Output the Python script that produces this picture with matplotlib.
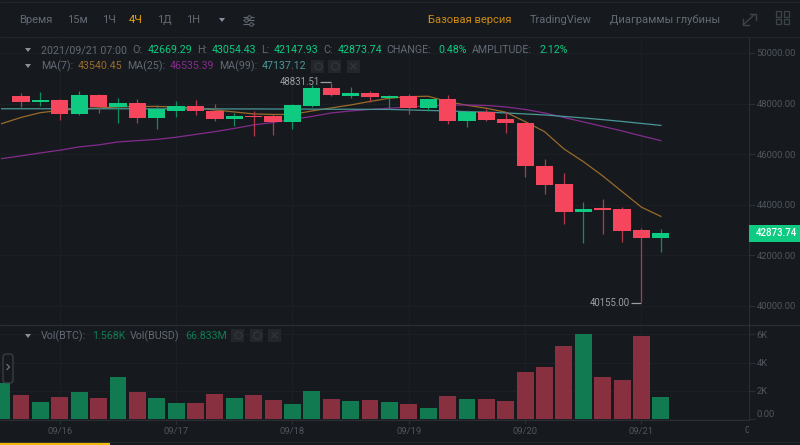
import matplotlib
matplotlib.use('Agg')
import matplotlib.pyplot as plt
from matplotlib.patches import Rectangle, Polygon, FancyBboxPatch
from matplotlib.transforms import Bbox
import numpy as np

plt.rcParams['font.family'] = ['Roboto', 'DejaVu Sans']

# Candles, 4h, index 0 = first complete candle on screen
opens = [48300, 48065, 48143, 47590, 48353, 47880, 48037, 47432, 47721, 47907, 47721, 47381, 47523, 47500, 47275,
         47895, 48618, 48313, 48420, 48234, 48302, 47828, 48171, 47314, 47658, 47373, 47247, 45525, 44826, 43708,
         43866, 43838, 43009, 42669.29]
highs = [48430, 48460, 48195, 48510, 48370, 48222, 48171, 47934, 48092, 48143, 47985, 47642, 47721, 47591, 47985,
         48748, 48831.51, 48669, 48510, 48330, 48380, 48190, 48329, 47749, 47776, 47681, 47260, 45825, 45272, 44114,
         44245, 43929, 43087, 43054.43]
lows = [47855, 47905, 47355, 47563, 47640, 47223, 47247, 47010, 47460, 47551, 47302, 47116, 46722, 46761, 46986,
        47880, 48300, 48234, 48065, 47776, 47590, 47721, 47184, 47065, 47302, 46840, 45114, 44419, 43234, 42483,
        42850, 42523, 40155.00, 42147.93]
closes = [48065, 48143, 47590, 48353, 47880, 48037, 47432, 47776, 47907, 47709, 47381, 47523, 47472, 47275, 47934,
          48618, 48341, 48432, 48250, 48313, 47828, 48171, 47314, 47670, 47354, 47223, 45525, 44786, 43708, 43838,
          43787, 42981, 42669.29, 42873.74]

# Moving averages start one candle before index 0
ma7 = [47207, 47452, 47642, 47729, 47788, 47828, 47867, 47887, 47887, 47867, 47828, 47749, 47670, 47591, 47571,
       47571, 47709, 47828, 47946, 48084, 48211, 48274, 48290, 48076, 47934, 47816, 47658, 47287, 46891, 46208,
       45706, 45141, 44521, 43905, 43540.45]
ma25 = [45825, 45932, 46050, 46157, 46287, 46366, 46484, 46536, 46583, 46670, 46781, 46891, 47018, 47156, 47255,
        47373, 47492, 47630, 47709, 47768, 47816, 47867, 47907, 47934, 47946, 47926, 47867, 47768, 47630, 47452,
        47275, 47097, 46919, 46722, 46535.39]
ma99 = [47795, 47795, 47795, 47795, 47795, 47795, 47795, 47795, 47790, 47790, 47790, 47790, 47788, 47788, 47785,
        47785, 47780, 47776, 47776, 47772, 47768, 47749, 47729, 47709, 47681, 47662, 47630, 47591, 47551, 47492,
        47432, 47365, 47294, 47215, 47137.12]

# Volume in thousands, same start as the averages
volumes = [2.59, 1.74, 1.22, 1.58, 1.91, 1.51, 2.96, 1.93, 1.48, 1.13, 1.18, 1.79, 1.51, 1.69, 1.39, 1.11, 1.98,
           1.44, 1.27, 1.34, 1.22, 1.11, 0.82, 1.65, 1.41, 1.46, 1.29, 3.36, 3.67, 5.20, 6.05, 2.96, 2.78, 5.91, 1.568]
vol_up = [1, 0, 1, 0, 1, 0, 1, 0, 1, 1, 0, 0, 1, 0, 0, 1, 1, 0, 1, 0, 1, 0, 1, 0, 1, 0, 0, 0, 0, 0, 1, 0, 0, 0, 1]

price_ticks = [40000, 42000, 44000, 46000, 48000, 50000]
vol_ticks = [0, 2, 4, 6]
vol_tick_labels = ['0.00', '2K', '4K', '6K']
date_ticks = [2, 8, 14, 20, 26, 32]
date_labels = ['09/16', '09/17', '09/18', '09/19', '09/20', '09/21']

BG = '#161a1e'
GRID = '#1c2024'
LINE = '#2a2e33'
GREEN = '#0ecb81'
RED = '#f6465d'
VOL_GREEN = '#117a50'
VOL_RED = '#88303f'
GREY = '#636a75'
AXIS_TEXT = '#4f555d'
ORANGE = '#f0a30a'
MA7_COLOR = '#9a6a2a'
MA25_COLOR = '#842c8e'
MA99_COLOR = '#4a9698'
W, H = 800, 445


def px_axes(fig, left, top, right, bottom):
    return fig.add_axes([left / W, 1 - bottom / H, (right - left) / W, (bottom - top) / H])


fig = plt.figure(figsize=(8, 4.45), dpi=100, facecolor=BG)

# candle index <-> pixel: x = 21 + 19.39 * i
xlim = (-21 / 19.39, (749 - 21) / 19.39)

ax = px_axes(fig, 0, 37, 749, 324)
ax_vol = px_axes(fig, 0, 324, 749, 420)
for a in (ax, ax_vol):
    a.set_facecolor(BG)
    a.set_xlim(*xlim)
    a.yaxis.tick_right()
    for s in ('top', 'left', 'bottom'):
        a.spines[s].set_visible(False)
    a.spines['right'].set_color(LINE)
    a.grid(True, color=GRID, linewidth=0.8)
    a.set_axisbelow(True)
    a.set_xticks(date_ticks)
    a.tick_params(axis='y', colors=LINE, labelcolor=AXIS_TEXT, labelsize=6.8, length=4, width=0.8, pad=1.5)

idx = np.arange(len(opens))
ma_idx = np.arange(-1, len(opens))

ax.set_ylim(39287, 50632)
ax.set_yticks(price_ticks)
ax.set_yticklabels([f'{p:.2f}' for p in price_ticks])
ax.tick_params(axis='x', length=0, labelbottom=False)

ax.plot(ma_idx, ma7, color=MA7_COLOR, lw=0.9, zorder=2)
ax.plot(ma_idx, ma25, color=MA25_COLOR, lw=0.9, zorder=2)
ax.plot(ma_idx, ma99, color=MA99_COLOR, lw=0.9, zorder=2)

candle_colors = [GREEN if c >= o else RED for o, c in zip(opens, closes)]
wick_colors = ['#0f8f5e' if c >= o else '#b23a4c' for o, c in zip(opens, closes)]
ax.vlines(idx, lows, highs, colors=wick_colors, lw=0.9, zorder=3)
ax.bar(idx, np.abs(np.array(closes) - np.array(opens)), bottom=np.minimum(opens, closes), width=0.89,
       color=candle_colors, zorder=4)

ax_vol.set_ylim(-0.05, 6.725)
ax_vol.set_yticks(vol_ticks)
ax_vol.set_yticklabels(vol_tick_labels)
ax_vol.get_yticklabels()[0].set_verticalalignment('bottom')
ax_vol.bar(ma_idx, volumes, width=0.87, color=[VOL_GREEN if u else VOL_RED for u in vol_up], zorder=3)
ax_vol.set_xticklabels(date_labels)
ax_vol.tick_params(axis='x', colors=LINE, labelcolor=AXIS_TEXT, labelsize=6.8, length=3, width=0.8, pad=2)
ax_vol.spines['bottom'].set_visible(True)
ax_vol.spines['bottom'].set_color(LINE)

# overlay in pixel coordinates for the page chrome
ov = fig.add_axes([0, 0, 1, 1], zorder=10)
ov.set_xlim(0, W)
ov.set_ylim(H, 0)
ov.axis('off')
ov.patch.set_alpha(0)


def txt(x, y, s, color=GREY, size=7.7, **kw):
    return ov.text(x, y, s, color=color, fontsize=size, va='center', **kw)


def seg(x1, y1, x2, y2, color=LINE, lw=0.9):
    ov.plot([x1, x2], [y1, y2], color=color, lw=lw, solid_capstyle='butt')


def tri(x, y, color='#8a9098'):
    ov.add_patch(Polygon([(x - 3, y - 2), (x + 3, y - 2), (x, y + 2)], color=color, lw=0))


# frame lines
seg(0, 2, 800, 2, color='#22262b')
seg(0, 37, 800, 37, color='#22262b')
seg(0, 324.5, 800, 324.5)
seg(0, 442, 800, 442, color='#22262b')
seg(0, 443.5, 110, 443.5, color='#f0b90b', lw=1.6)

# toolbar
for x, s, c in [(19, 'Время', GREY), (67, '15м', GREY), (102, '1Ч', GREY), (129, '4Ч', ORANGE),
                (157, '1Д', GREY), (186, '1Н', GREY)]:
    txt(x, 20, s, color=c, size=8)
tri(222, 20, '#848e9c')
for yy, knob in [(16.5, 249), (20, 246), (23.5, 251)]:
    seg(243, yy, 254, yy, color=GREY, lw=0.8)
    ov.plot(knob, yy, 'o', ms=2.5, mfc=BG, mec=GREY, mew=0.7)
txt(428.5, 20, 'Базовая версия', color='#cf8a10', size=8)
txt(530, 20, 'TradingView', size=8)
txt(610, 20, 'Диаграммы глубины', size=8)

# expand and layout icons
seg(743, 25, 755, 14, color='#3d434b', lw=1)
for pts in [[(743, 19), (743, 25), (749, 25)], [(750, 14), (756, 14), (756, 20)]]:
    ov.plot(*zip(*pts), color='#3d434b', lw=1)
for gx in (776, 783.5):
    for gy in (11, 18.5):
        ov.add_patch(Rectangle((gx, gy), 5, 5.5, fill=False, ec='#3d434b', lw=0.9))

# legend rows
tri(28, 50)
txt(41, 50, '2021/09/21 07:00')
for x, s, c in [(132.5, 'O:', GREY), (148, '42669.29', GREEN), (197, 'H:', GREY), (212, '43054.43', GREEN),
                (261, 'L:', GREY), (274, '42147.93', GREEN), (323, 'C:', GREY), (338, '42873.74', GREEN),
                (386, 'CHANGE:', GREY), (438, '0.48%', GREEN), (472, 'AMPLITUDE:', GREY), (539, '2.12%', GREEN)]:
    txt(x, 50, s, color=c)

tri(28, 66)
for x, s, c in [(41, 'MA(7):', GREY), (78, '43540.45', MA7_COLOR), (127, 'MA(25):', GREY),
                (170, '46535.39', MA25_COLOR), (219, 'MA(99):', GREY), (262, '47137.12', MA99_COLOR)]:
    txt(x, 66, s, color=c)

tri(28, 336)
for x, s, c in [(41, 'Vol(BTC):', GREY), (92, '1.568K', VOL_GREEN), (130, 'Vol(BUSD)', GREY),
                (185.5, '66.833M', VOL_GREEN)]:
    txt(x, 336, s, color=c)

# eye / gear / close buttons
for y0, xs in [(60, (311, 328, 347)), (329, (231, 250, 268))]:
    for i, x0 in enumerate(xs):
        ov.add_patch(Rectangle((x0, y0), 13, 12.5, color='#23272c', lw=0))
        cx, cy = x0 + 6.5, y0 + 6.25
        if i == 0:
            ov.plot(cx, cy, 'o', ms=5, mfc='none', mec='#33383e', mew=0.8)
        elif i == 1:
            ov.plot(cx, cy, 'h', ms=6, mfc='none', mec='#33383e', mew=0.8)
        else:
            seg(cx - 3, cy - 3, cx + 3, cy + 3, color='#33383e')
            seg(cx - 3, cy + 3, cx + 3, cy - 3, color='#33383e')

# high and low labels
txt(280, 82, '48831.51', color='#9a9fa6', size=6.9)
seg(320, 82, 331, 82, color='#9a9fa6')
txt(590, 302.7, '40155.00', color='#9a9fa6', size=6.9)
seg(631, 302.7, 641, 302.7, color='#9a9fa6')

# last price tag
ov.add_patch(Rectangle((749, 225), 51, 17, color=GREEN, lw=0))
txt(776, 233.3, '42873.74', color='white', size=6.9, ha='center', fontweight='medium')

# collapse handle
ov.add_patch(FancyBboxPatch((4, 355), 8, 27, boxstyle='round,pad=1,rounding_size=3', fc=BG, ec='#41464d', lw=0.8))
ov.plot([7, 9.5, 7], [364.5, 367, 369.5], color='#6a7280', lw=0.9)

# next date label, cut off by the price axis
cut = txt(757, 430.5, '09/22', color=AXIS_TEXT, size=6.8, ha='center')
cut.set_clip_box(Bbox([[0, 0], [749, 445]]))
cut.set_clip_on(True)

fig.savefig('out.png', dpi=100, facecolor=BG)
